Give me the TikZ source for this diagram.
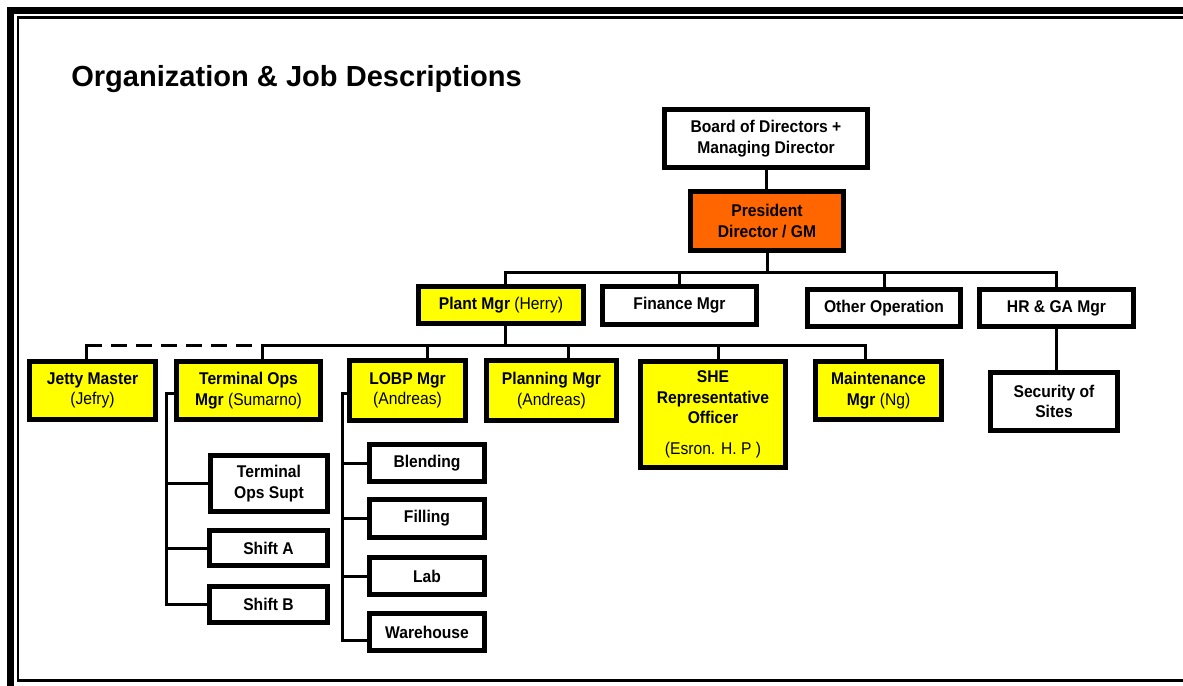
\documentclass[tikz,border=0pt]{standalone}
\usepackage{fontspec}
\setmainfont{Liberation Sans}
\newfontfamily\boxfont{Liberation Sans}[FakeStretch=0.92]
\definecolor{hlyellow}{HTML}{FFFF00}
\definecolor{hlorange}{HTML}{FF6600}
\begin{document}
\begin{tikzpicture}[x=0.75pt,y=-0.75pt,
  box/.style={draw=black, line width=3.4pt, fill=white, inner sep=0pt, align=center,
    font=\boxfont\bfseries\fontsize{12.75}{15.4}\selectfont},
  ybox/.style={box, fill=hlyellow},
  obox/.style={box, fill=hlorange},
  dim/.style 2 args={minimum width=#1*0.75pt, minimum height=#2*0.75pt},
  conn/.style={line width=2.25pt, line cap=rect},
  dashconn/.style={line width=2.25pt, dash pattern=on 12pt off 6.75pt},
  frameout/.style={line width=5.25pt},
  framein/.style={line width=1.9pt},
  titlestyle/.style={anchor=base west, inner sep=0pt, font=\bfseries\fontsize{21.8}{26}\selectfont}]
\useasboundingbox (0,0) rectangle (1183,686);
\clip (0,0) rectangle (1183,686);
% frame
\draw[frameout] (10.5,10.5) rectangle (1250,750);
\draw[framein] (18,17.5) rectangle (1250,680.5);
% title
\node[titlestyle] (title) at (71,86) {Organization \& Job Descriptions};
% top levels
\node[box, dim={203.5}{58.5}] (board) at (766,138.5) {Board of Directors +\\Managing Director};
\node[obox, dim={153.5}{59.5}] (pres) at (767,221) {President\\Director / GM};
\node[ybox, dim={165.5}{37.5}] (plant) at (501,305) {Plant Mgr {\mdseries(Herry)}};
\node[box, dim={154.5}{38.5}] (fin) at (679.5,305.5) {Finance Mgr};
\node[box, dim={153.5}{37.5}] (other) at (884,308) {Other Operation};
\node[box, dim={154.5}{37.5}] (hr) at (1056.5,308) {HR \& GA Mgr};
\node[box, dim={127.5}{58.5}] (sec) at (1054,401.5) {Security of\\Sites};
% second row
\node[ybox, dim={126.5}{58.5}] (jetty) at (92.5,390.5) {Jetty Master\\{\mdseries(Jefry)}};
\node[ybox, dim={144.5}{58.5}] (term) at (248.5,390.5) {Terminal Ops\\Mgr {\mdseries(Sumarno)}};
\node[ybox, dim={116.5}{60.5}] (lobp) at (407.5,390.5) {LOBP Mgr\\{\mdseries(Andreas)}};
\node[ybox, dim={130.5}{60.5}] (plan) at (551.5,390.5) {Planning Mgr\\{\mdseries(Andreas)}};
\node[ybox, dim={145.5}{106.5}] (she) at (713,414.5) {SHE\\Representative\\Officer\\[8pt]{\mdseries(Esron. H. P )}};
\node[ybox, dim={126.5}{58.5}] (maint) at (878.5,390.5) {Maintenance\\Mgr {\mdseries(Ng)}};
% third level
\node[box, dim={117.5}{56.5}] (supt) at (269,483.5) {Terminal\\Ops Supt};
\node[box, dim={118.5}{35.5}] (shA) at (268.5,548) {Shift A};
\node[box, dim={118.5}{36.5}] (shB) at (268.5,604.5) {Shift B};
\node[box, dim={115.5}{37.5}] (blend) at (427,463) {Blending};
\node[box, dim={115.5}{38.5}] (filling) at (427,518.5) {Filling};
\node[box, dim={115.5}{37.5}] (lab) at (427,576) {Lab};
\node[box, dim={115.5}{37.5}] (ware) at (427,632) {Warehouse};
% connectors top
\coordinate (b1) at (767,272);
\coordinate (pd) at (505,272);
\draw[conn] (board.south) -- (board.south |- pres.north);
\draw[conn] (pres.south) -- (pres.south |- b1);
\draw[conn] (pd |- plant.north) -- (pd) -- (hr.north |- b1) -- (hr.north);
\draw[conn] (fin.north) -- (fin.north |- b1);
\draw[conn] (other.north) -- (other.north |- b1);
\draw[conn] (hr.south) -- (hr.south |- sec.north);
% second bus
\coordinate (b2) at (505,345);
\coordinate (dJ) at (86,345);
\coordinate (dT) at (262,345);
\coordinate (dL) at (427,345);
\coordinate (dP) at (568,345);
\coordinate (dS) at (718,345);
\coordinate (dM) at (865,345);
\draw[conn] (b2 |- plant.south) -- (b2);
\draw[conn] (dT) -- (dM);
\draw[conn] (dT) -- (dT |- term.north);
\draw[conn] (dL) -- (dL |- lobp.north);
\draw[conn] (dP) -- (dP |- plan.north);
\draw[conn] (dS) -- (dS |- she.north);
\draw[conn] (dM) -- (dM |- maint.north);
\draw[conn] (dJ |- jetty.north) -- (dJ);
\draw[dashconn] (dJ) -- (dT);
% terminal branch
\coordinate (tv) at (166,393);
\draw[conn] (term.west |- tv) -- (tv) -- (tv |- shB.west) -- (shB.west);
\draw[conn] (tv |- supt.west) -- (supt.west);
\draw[conn] (tv |- shA.west) -- (shA.west);
% LOBP branch
\coordinate (lv) at (342,393);
\coordinate (lw) at (342,640);
\draw[conn] (lobp.west |- lv) -- (lv) -- (lw) -- (lw -| ware.west);
\draw[conn] (lv |- blend.west) -- (blend.west);
\draw[conn] (lv |- filling.west) -- (filling.west);
\draw[conn] (lv |- lab.west) -- (lab.west);
\end{tikzpicture}
\end{document}
